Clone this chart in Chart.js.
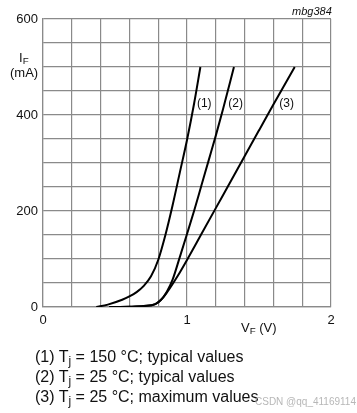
<!DOCTYPE html>
<html>
<head>
<meta charset="utf-8">
<script src="https://cdn.jsdelivr.net/npm/chart.js@4.4.1/dist/chart.umd.min.js"></script>
<style>
  html, body { margin: 0; padding: 0; background: #fff; }
  #wrap { position: relative; width: 357px; height: 413px; font-family: "Liberation Sans", Arial, sans-serif; color: #111; }
  canvas { position: absolute; left: 0; top: 0; }
  .t { position: absolute; white-space: nowrap; line-height: 1; }
  sub { font-size: 75%; vertical-align: -0.25em; line-height: 0; }
</style>
</head>
<body>
<div id="wrap">
  <canvas id="c" width="357" height="413"></canvas>
  <div class="t" id="ylab1" style="left:19px; top:51px; font-size:13px;">I<sub>F</sub></div>
  <div class="t" id="ylab2" style="left:10px; top:66px; font-size:13px;">(mA)</div>
  <div class="t" id="xlab" style="left:241px; top:321px; font-size:13px;">V<sub>F</sub> (V)</div>
  <div class="t" id="code" style="left:292px; top:6px; font-size:11px; font-style:italic;">mbg384</div>
  <div class="t" id="lab1" style="font-size:12px;">(1)</div>
  <div class="t" id="lab2" style="font-size:12px;">(2)</div>
  <div class="t" id="lab3" style="font-size:12px;">(3)</div>
  <div class="t" style="left:35px; top:349px; font-size:16px;">(1) T<sub>j</sub> = 150 °C; typical values</div>
  <div class="t" style="left:35px; top:369px; font-size:16px;">(2) T<sub>j</sub> = 25 °C; typical values</div>
  <div class="t" style="left:35px; top:389px; font-size:16px;">(3) T<sub>j</sub> = 25 °C; maximum values</div>
  <div class="t" style="left:255px; top:397px; font-size:10px; color:rgba(170,170,170,0.85);">CSDN @qq_41169114</div>
</div>
<script>
// Curve data: forward voltage (V) vs forward current (mA)
const vf150typ = [0.37, 0.45, 0.55, 0.60, 0.65, 0.70, 0.75, 0.80, 0.85, 0.90, 0.95, 1.00, 1.05, 1.093];
const if150typ = [0,    5,    15,   22,   31,   44,   64,   98,   150,  212,  280,  348,  425,  500];

const vf25typ = [0.46, 0.60, 0.70, 0.78, 0.82, 0.86, 0.90, 0.95, 1.00, 1.05, 1.10, 1.15, 1.20, 1.25, 1.326];
const if25typ = [0,    0.5,  2,    6,    15,   32,   57,   104,  152,  201,  253,  305,  357,  412,  500];

const vf25max = [0.46, 0.60, 0.70, 0.78, 0.82, 0.86, 0.90, 0.95, 1.00, 1.10, 1.20, 1.30, 1.40, 1.50, 1.60, 1.748];
const if25max = [0,    0.5,  2,    6,    15,   30,   48,   72,   98,   152,  206,  260,  314,  368,  422,  500];

const xTickLabels = [0, 1, 2];
const yTickLabels = [0, 200, 400, 600];

const curveLabels = ["(1)", "(2)", "(3)"];
const curveLabelV = [1.069, 1.287, 1.641];
const curveLabelI = [426, 426, 426];

function pts(xs, ys) { return xs.map((x, i) => ({ x: x, y: ys[i] })); }

const lineStyle = {
  showLine: true, pointRadius: 0, borderColor: '#000', borderWidth: 2,
  cubicInterpolationMode: 'monotone', fill: false
};

const gridColor = '#8a8a8a';

const labelPlugin = {
  id: 'labelPlugin',
  afterRender(chart) {
    const xs = chart.scales.x, ys = chart.scales.y;
    ['lab1', 'lab2', 'lab3'].forEach((id, i) => {
      const el = document.getElementById(id);
      el.textContent = curveLabels[i];
      el.style.left = xs.getPixelForValue(curveLabelV[i]) + 'px';
      el.style.top = (ys.getPixelForValue(curveLabelI[i]) - 6) + 'px';
    });
  }
};

new Chart(document.getElementById('c'), {
  type: 'scatter',
  data: {
    datasets: [
      Object.assign({ label: 'Tj=150 typ', data: pts(vf150typ, if150typ) }, lineStyle),
      Object.assign({ label: 'Tj=25 typ', data: pts(vf25typ, if25typ) }, lineStyle),
      Object.assign({ label: 'Tj=25 max', data: pts(vf25max, if25max) }, lineStyle)
    ]
  },
  options: {
    responsive: false,
    animation: false,
    devicePixelRatio: 1,
    layout: { padding: { top: 19, right: 26, left: 0, bottom: 0 } },
    plugins: { legend: { display: false }, tooltip: { enabled: false } },
    scales: {
      x: {
        type: 'linear', min: 0, max: 2,
        afterFit(s) { s.height = 106; },
        grid: { color: gridColor, lineWidth: 1.2, drawTicks: false },
        border: { color: gridColor, width: 1.2 },
        ticks: {
          stepSize: 0.2, padding: 6, color: '#111', maxRotation: 0, autoSkip: false,
          font: { family: '"Liberation Sans", Arial, sans-serif', size: 13 },
          callback(v) {
            const r = Math.round(v);
            return (Math.abs(v - r) < 1e-6 && xTickLabels.includes(r)) ? String(r) : '';
          }
        }
      },
      y: {
        type: 'linear', min: 0, max: 600,
        afterFit(s) { s.width = 43; },
        grid: { color: gridColor, lineWidth: 1.2, drawTicks: false },
        border: { color: gridColor, width: 1.2 },
        ticks: {
          stepSize: 50, padding: 5, color: '#111', autoSkip: false,
          font: { family: '"Liberation Sans", Arial, sans-serif', size: 13 },
          callback(v) { return yTickLabels.includes(v) ? String(v) : ''; }
        }
      }
    }
  },
  plugins: [labelPlugin]
});
</script>
</body>
</html>
